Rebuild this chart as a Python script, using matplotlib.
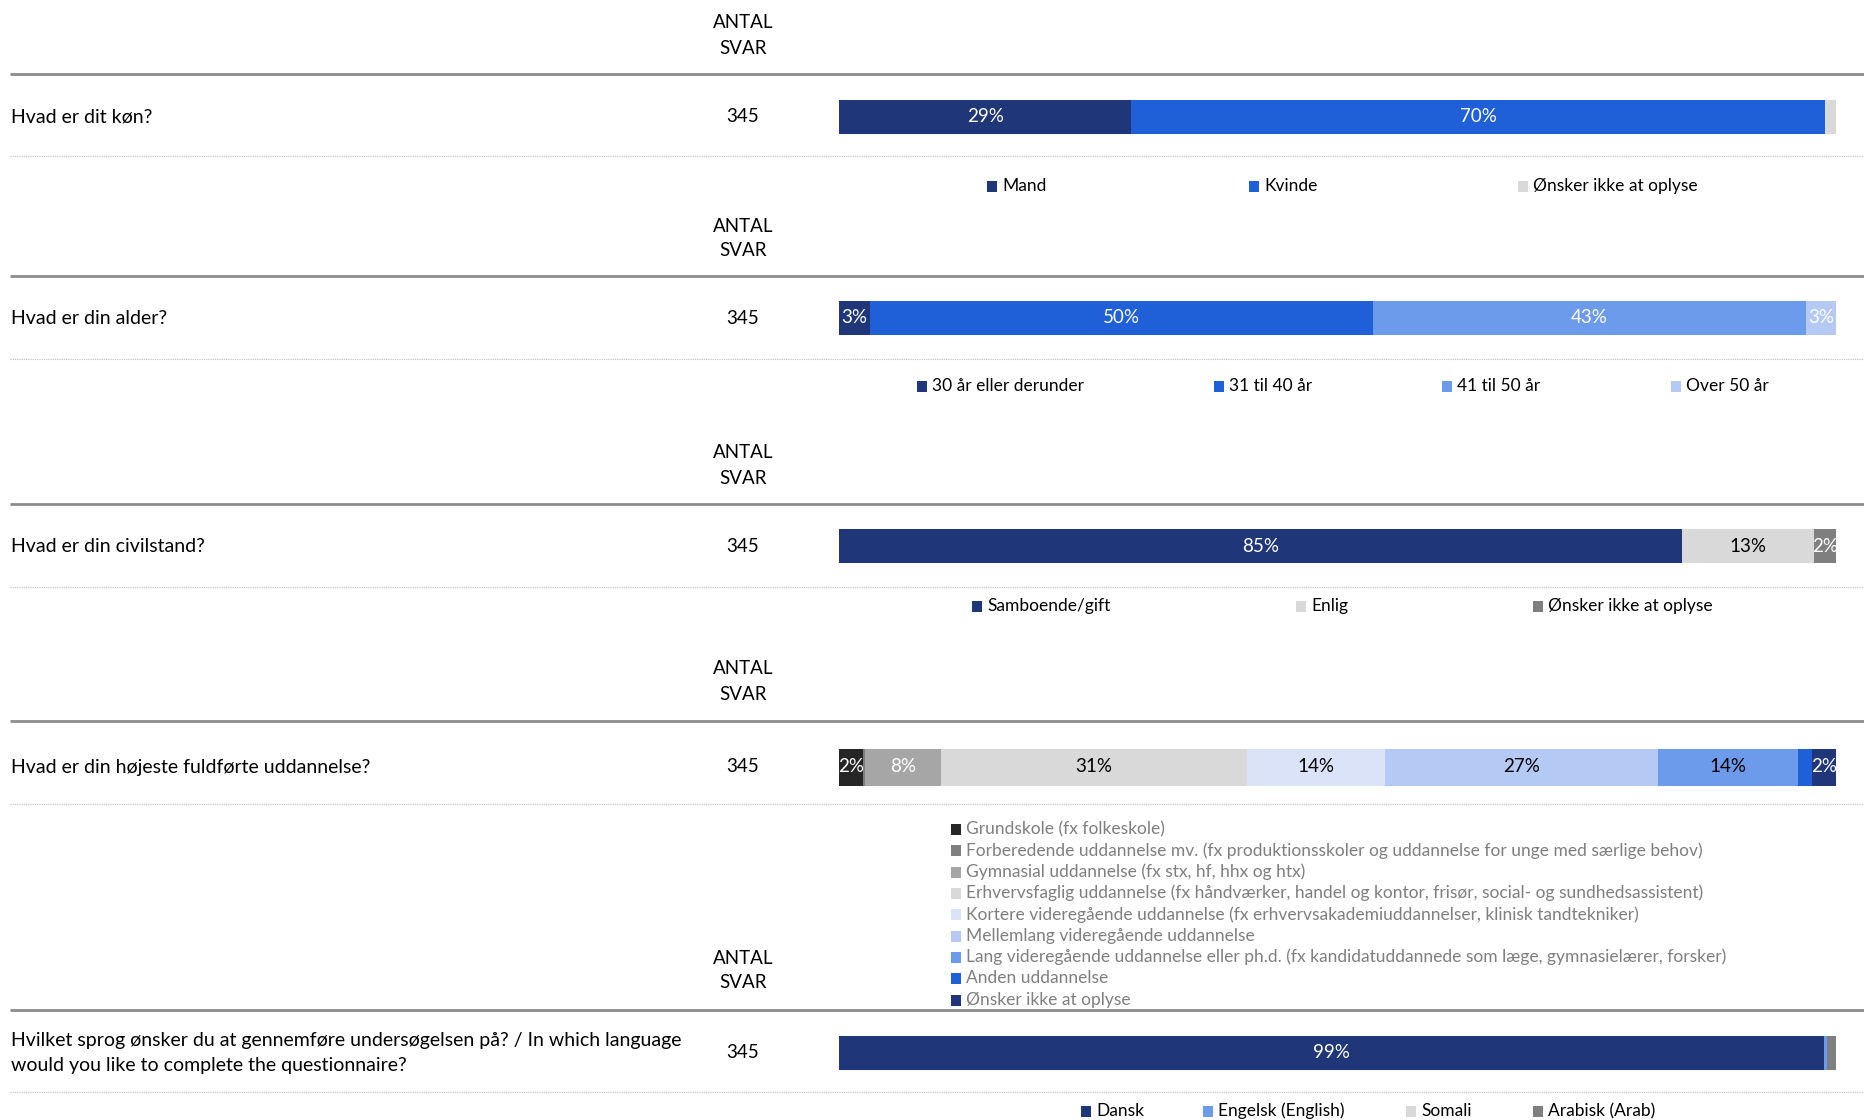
import matplotlib.pyplot as plt
from matplotlib.patches import Rectangle

plt.rcParams['font.family'] = ['Lato', 'DejaVu Sans']

W, H = 1864, 1120
FS = 12.5      # legend text
FS_Q = 14      # questions
FS_N = 13.5    # counts / headers
FS_B = 13.5    # bar labels

# colours
NAVY = '#1F3679'
BLUE = '#1F5FD8'
MBLUE = '#6D9BEB'
LBLUE = '#B4C9F3'
XLBLUE = '#DAE3F8'
LGREY = '#D9D9D9'
GREY = '#A6A6A6'
DGREY = '#7F7F7F'
BLACK = '#262626'

# data
questions = [
    'Hvad er dit køn?',
    'Hvad er din alder?',
    'Hvad er din civilstand?',
    'Hvad er din højeste fuldførte uddannelse?',
    'Hvilket sprog ønsker du at gennemføre undersøgelsen på? / In which language\nwould you like to complete the questionnaire?',
]
n_answers = [345, 345, 345, 345, 345]

cats_kon = ['Mand', 'Kvinde', 'Ønsker ikke at oplyse']
vals_kon = [29.3, 69.6, 1.1]

cats_alder = ['30 år eller derunder', '31 til 40 år', '41 til 50 år', 'Over 50 år']
vals_alder = [3.1, 50.4, 43.4, 3.0]

cats_civil = ['Samboende/gift', 'Enlig', 'Ønsker ikke at oplyse']
vals_civil = [84.6, 13.2, 2.2]

cats_udd = ['Grundskole (fx folkeskole)',
            'Forberedende uddannelse mv. (fx produktionsskoler og uddannelse for unge med særlige behov)',
            'Gymnasial uddannelse (fx stx, hf, hhx og htx)',
            'Erhvervsfaglig uddannelse (fx håndværker, handel og kontor, frisør, social- og sundhedsassistent)',
            'Kortere videregående uddannelse (fx erhvervsakademiuddannelser, klinisk tandtekniker)',
            'Mellemlang videregående uddannelse',
            'Lang videregående uddannelse eller ph.d. (fx kandidatuddannede som læge, gymnasielærer, forsker)',
            'Anden uddannelse',
            'Ønsker ikke at oplyse']
vals_udd = [2.4, 0.2, 7.6, 30.7, 13.9, 27.3, 14.1, 1.4, 2.4]

cats_sprog = ['Dansk', 'Engelsk (English)', 'Somali', 'Arabisk (Arab)']
vals_sprog = [98.8, 0.3, 0.0, 0.9]

rows = [
    dict(cats=cats_kon, vals=vals_kon,
         colors=[NAVY, BLUE, LGREY],
         tcolors=['white', 'white', 'black']),
    dict(cats=cats_alder, vals=vals_alder,
         colors=[NAVY, BLUE, MBLUE, LBLUE],
         tcolors=['white', 'white', 'white', 'white']),
    dict(cats=cats_civil, vals=vals_civil,
         colors=[NAVY, LGREY, DGREY],
         tcolors=['white', 'black', 'white']),
    dict(cats=cats_udd, vals=vals_udd,
         colors=[BLACK, DGREY, GREY, LGREY, XLBLUE, LBLUE, MBLUE, BLUE, NAVY],
         tcolors=['white', 'white', 'white', 'black', 'black', 'black', 'black', 'white', 'white']),
    dict(cats=cats_sprog, vals=vals_sprog,
         colors=[NAVY, MBLUE, LGREY, DGREY],
         tcolors=['white', 'white', 'black', 'white']),
]

# layout (pixels)
header_y = [(23, 48), (226, 250), (452, 478), (669, 695), (958, 983)]
thick_y = [74, 276, 504, 721, 1010]
row_y = [117, 318, 546, 767, 1053]
bar_h = [34, 34, 34, 37, 34]
dotted_y = [156, 359, 587, 804, 1092]
legend_y = [186, 386, 606, None, 1111]
legend_x = [
    [987, 1249, 1518],
    [917, 1214, 1442, 1671],
    [972, 1296, 1533],
    None,
    [1081, 1203, 1406, 1533],
]
list_x = 951
list_y0, list_dy = 829, 21.35
bar_x0, bar_x1 = 839, 1836
col_x = 743

fig = plt.figure(figsize=(W / 100, H / 100), dpi=100)
ax = fig.add_axes([0, 0, 1, 1])
ax.set_xlim(0, W)
ax.set_ylim(H, 0)
ax.axis('off')

sq = 10
for i, row in enumerate(rows):
    y1, y2 = header_y[i]
    ax.text(col_x, y1, 'ANTAL', ha='center', va='center', fontsize=FS_N)
    ax.text(col_x, y2, 'SVAR', ha='center', va='center', fontsize=FS_N)
    ax.plot([10, W], [thick_y[i]] * 2, color='#8C8C8C', lw=2, solid_capstyle='butt')
    ax.plot([10, W], [dotted_y[i]] * 2, color='#BFBFBF', lw=0.8, ls=(0, (1, 1)))

    ax.text(11, row_y[i], questions[i], ha='left', va='center', fontsize=FS_Q,
            linespacing=1.6)
    ax.text(col_x, row_y[i], str(n_answers[i]), ha='center', va='center', fontsize=FS_N)

    # stacked bar
    bh = bar_h[i]
    bax = fig.add_axes([bar_x0 / W, 1 - (row_y[i] + bh / 2) / H,
                        (bar_x1 - bar_x0) / W, bh / H])
    total = sum(row['vals'])
    left = 0
    for v, c, tc in zip(row['vals'], row['colors'], row['tcolors']):
        bax.barh(0, v, left=left, height=1, color=c, linewidth=0)
        if v >= 2:
            bax.text(left + v / 2, 0, f'{v:.0f}%', ha='center', va='center',
                     color=tc, fontsize=FS_B)
        left += v
    bax.set_xlim(0, total)
    bax.set_ylim(-0.5, 0.5)
    bax.axis('off')

    # legend
    if legend_x[i] is not None:
        for x, cat, c in zip(legend_x[i], row['cats'], row['colors']):
            ax.add_patch(Rectangle((x, legend_y[i] - sq / 2), sq, sq + 1, color=c, lw=0))
            ax.text(x + 15, legend_y[i], cat, ha='left', va='center', fontsize=FS)
    else:
        for k, (cat, c) in enumerate(zip(row['cats'], row['colors'])):
            yy = list_y0 + k * list_dy
            ax.add_patch(Rectangle((list_x, yy - sq / 2), sq, sq + 1, color=c, lw=0))
            ax.text(list_x + 15, yy, cat, ha='left', va='center', fontsize=FS,
                    color='#7F7F7F')

fig.savefig('out.png', dpi=100)
